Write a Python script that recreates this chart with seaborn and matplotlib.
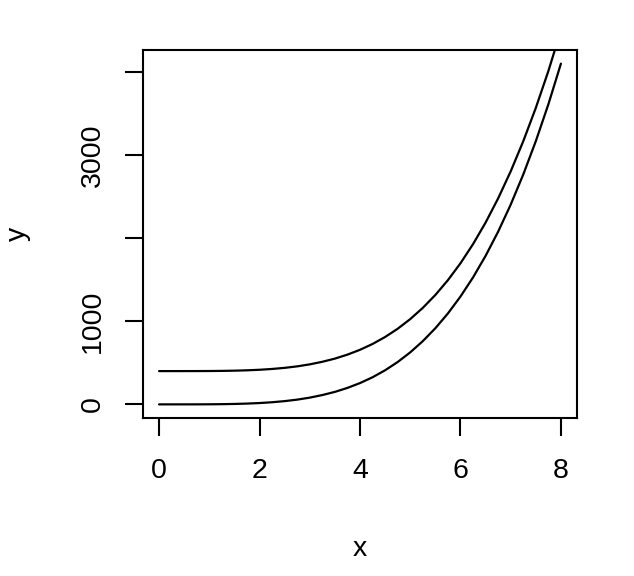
import matplotlib
matplotlib.use('Agg')
import matplotlib.pyplot as plt
import seaborn as sns
import pandas as pd

# values
x_vals = [0, 0.25, 0.5, 0.75, 1, 1.25, 1.5, 1.75, 2, 2.25, 2.5, 2.75, 3, 3.25, 3.5, 3.75,
          4, 4.25, 4.5, 4.75, 5, 5.25, 5.5, 5.75, 6, 6.25, 6.5, 6.75, 7, 7.25, 7.5, 7.75, 8]
y_low = [0, 0, 0.06, 0.3, 1, 2.4, 5.1, 9.4, 16, 25.6, 39, 57, 81, 112, 150, 198,
         256, 326, 410, 509, 625, 760, 915, 1093, 1296, 1526, 1785, 2076, 2401, 2763, 3164, 3607, 4096]
y_high = [400, 400, 400.06, 400.3, 401, 402.4, 405.1, 409.4, 416, 425.6, 439, 457, 481, 512, 550, 598,
          656, 726, 810, 909, 1025, 1160, 1315, 1493, 1696, 1926, 2185, 2476, 2801, 3163, 3564, 4007, 4496]

y_ticks = [0, 1000, 2000, 3000, 4000]
y_labels = ['0', '1000', '', '3000', '']
x_ticks = [0, 2, 4, 6, 8]

df = pd.DataFrame({'x': x_vals * 2,
                   'y': y_low + y_high,
                   'curve': ['low'] * len(x_vals) + ['high'] * len(x_vals)})

sns.set_theme(style='white')
plt.rcParams['font.family'] = ['Liberation Sans', 'DejaVu Sans']
plt.rcParams['text.color'] = 'black'
plt.rcParams['axes.labelcolor'] = 'black'
plt.rcParams['xtick.color'] = 'black'
plt.rcParams['ytick.color'] = 'black'

fig = plt.figure(figsize=(6.34, 5.76), dpi=100)
ax = fig.add_axes([143 / 634, 1 - 418 / 576, (577 - 143) / 634, (418 - 50) / 576])

sns.lineplot(df, x='x', y='y', units='curve', estimator=None,
             color='black', lw=1.6, ax=ax, legend=False)

ax.set_xlim(-0.32, 8.32)
ax.set_ylim(-163.84, 4259.84)
ax.set_xticks(x_ticks)
ax.set_xticklabels([str(t) for t in x_ticks])
ax.set_yticks(y_ticks)
ax.set_yticklabels(y_labels, rotation=90, va='center')

for s in ax.spines.values():
    s.set_color('black')
    s.set_linewidth(1.5)

ax.tick_params(axis='x', direction='out', length=13, width=1.5, bottom=True,
               color='black', labelcolor='black', labelsize=20.5, pad=16)
ax.tick_params(axis='y', direction='out', length=13, width=1.5, left=True,
               color='black', labelcolor='black', labelsize=20.5, pad=14)
ax.set_xlabel('x', fontsize=20.5, labelpad=37, color='black')
ax.set_ylabel('y', fontsize=20.5, labelpad=35, color='black')

fig.savefig('out.png', dpi=100)
